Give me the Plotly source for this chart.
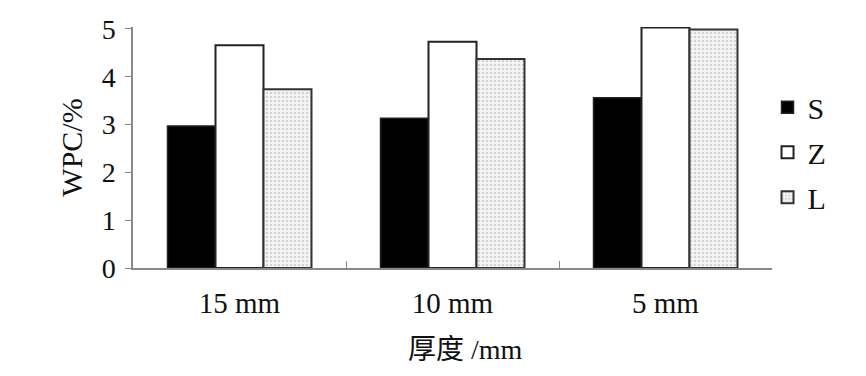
import plotly.graph_objects as go

categories = ["15 mm", "10 mm", "5 mm"]
s_vals = [2.97, 3.13, 3.56]
z_vals = [4.66, 4.73, 5.03]
l_vals = [3.74, 4.37, 4.99]
series_names = ["S", "Z", "L"]
x_title = "厚度 /mm"
y_title = "WPC/%"

FONT = "Liberation Serif, Times New Roman, Noto Sans CJK SC, serif"

fig = go.Figure()
fig.add_trace(go.Bar(x=categories, y=s_vals, name=series_names[0], legendgroup="a",
                     marker=dict(color="black", line=dict(color="#222", width=1.5))))
fig.add_trace(go.Bar(x=categories, y=z_vals, name=series_names[1], legendgroup="b",
                     marker=dict(color="white", line=dict(color="#222", width=2))))
fig.add_trace(go.Bar(x=categories, y=l_vals, name=series_names[2], legendgroup="c",
                     marker=dict(color="#f2f2f2", line=dict(color="#333", width=2),
                                 pattern=dict(shape=".", fgcolor="#b0b0b0", bgcolor="#f4f4f4",
                                              size=4, solidity=0.3))))

fig.update_layout(
    width=858, height=368,
    margin=dict(l=125, r=94, t=19, b=108, autoexpand=False),
    paper_bgcolor="white", plot_bgcolor="white",
    barmode="group", bargap=0.324, bargroupgap=0,
    font=dict(family=FONT, size=26, color="#111"),
    showlegend=True,
    legend=dict(x=0.993, y=0.775, xanchor="left", yanchor="top",
                font=dict(size=30, family=FONT), traceorder="grouped",
                tracegroupgap=3, bgcolor="rgba(0,0,0,0)", itemwidth=30),
    xaxis=dict(showline=True, linecolor="#888", linewidth=1.5,
               ticks="inside", tickson="boundaries", ticklen=7, tickcolor="#888",
               tickfont=dict(size=29, family=FONT), ticklabelstandoff=8,
               showgrid=False, zeroline=False),
    yaxis=dict(range=[0, 5.04], tickvals=[0, 1, 2, 3, 4, 5],
               showline=True, linecolor="#888", linewidth=1.5,
               ticks="outside", ticklen=6, tickcolor="#888",
               tickfont=dict(size=28, family=FONT), ticklabelstandoff=4,
               title=dict(text=y_title, font=dict(size=30, family=FONT), standoff=10),
               showgrid=False, zeroline=False),
    annotations=[dict(text=x_title, xref="paper", yref="paper", x=0.52, y=-0.34,
                      xanchor="center", yanchor="middle", showarrow=False,
                      font=dict(size=28, family=FONT))],
)

fig.write_html("out.html")
